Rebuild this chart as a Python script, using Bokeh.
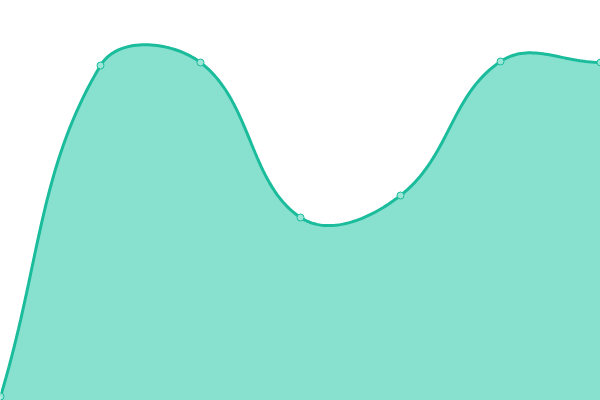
import numpy as np
from bokeh.plotting import figure
from bokeh.embed import file_html
from bokeh.resources import INLINE

# data
labels = [0, 1, 2, 3, 4, 5, 6]
values = [4, 335, 338, 183, 205, 339, 338]

W, H = 600, 400
X_MAX = 6
Y_MAX = 400

p = figure(width=W, height=H, output_backend="svg", toolbar_location=None,
           x_range=(0, X_MAX), y_range=(0, Y_MAX), min_border=0,
           outline_line_color=None, background_fill_color="white",
           border_fill_color="white")
p.axis.visible = False
p.grid.visible = False

# Chart.js style spline (tension 0.4) computed in screen space
sx = W / X_MAX
sy = H / Y_MAX
pts = np.array([[l * sx, v * sy] for l, v in zip(labels, values)], dtype=float)
t = 0.4
n = len(pts)
cprev = pts.copy()
cnext = pts.copy()
for i in range(n):
    prev = pts[i - 1] if i > 0 else pts[i]
    nxt = pts[i + 1] if i < n - 1 else pts[i]
    cur = pts[i]
    d01 = np.hypot(*(cur - prev))
    d12 = np.hypot(*(nxt - cur))
    tot = d01 + d12
    s01 = d01 / tot if tot else 0
    s12 = d12 / tot if tot else 0
    fa = t * s01
    fb = t * s12
    cprev[i] = cur - fa * (nxt - prev)
    cnext[i] = cur + fb * (nxt - prev)
cprev[:, 0] = np.clip(cprev[:, 0], 0, W); cprev[:, 1] = np.clip(cprev[:, 1], 0, H)
cnext[:, 0] = np.clip(cnext[:, 0], 0, W); cnext[:, 1] = np.clip(cnext[:, 1], 0, H)

cx, cy = [], []
tt = np.linspace(0, 1, 40)
for i in range(n - 1):
    P0, P1, P2, P3 = pts[i], cnext[i], cprev[i + 1], pts[i + 1]
    for u in tt:
        b = ((1 - u) ** 3) * P0 + 3 * ((1 - u) ** 2) * u * P1 + 3 * (1 - u) * u ** 2 * P2 + u ** 3 * P3
        cx.append(b[0] / sx)
        cy.append(b[1] / sy)

p.patch(cx + [cx[-1], cx[0]], cy + [0, 0], fill_color="#88e0cf", line_color=None)
p.line(cx, cy, line_color="#1abc9c", line_width=3)
p.scatter(labels, values, size=7, fill_color="#9be6d6", line_color="#1abc9c", line_width=1)

html = file_html(p, INLINE)
html = html.replace("<head>", "<head><style>html,body{margin:0;padding:0;}</style>", 1)
open("out.html", "w").write(html)
